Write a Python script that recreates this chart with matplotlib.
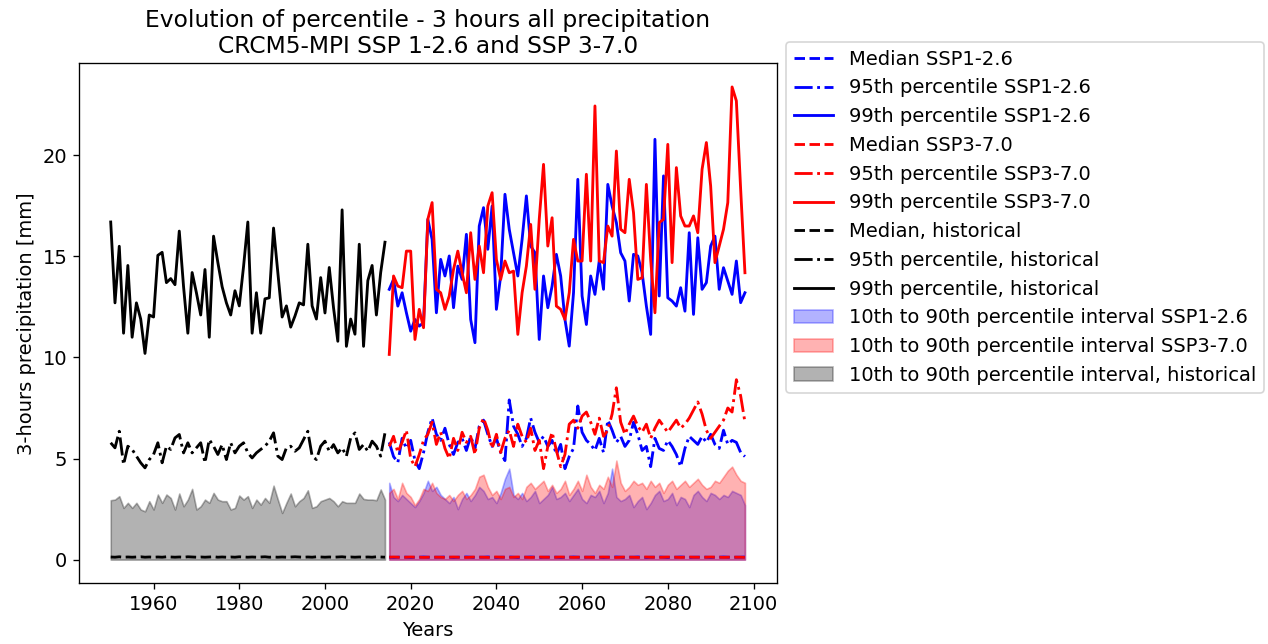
import numpy as np
import matplotlib
matplotlib.use("Agg")
import matplotlib.pyplot as plt

plt.rcParams['font.size'] = 11.7
plt.rcParams['lines.linewidth'] = 1.7

# Years
hist_years = np.arange(1950, 2015)
ssp_years = np.arange(2015, 2099)

# Historical percentiles (mm per 3 hours)
hist_p99 = [16.70, 12.70, 15.50, 11.20, 14.55, 11.00, 12.70, 11.90, 10.20, 12.10,
            12.00, 15.05, 15.20, 13.70, 13.90, 13.60, 16.25, 13.50, 11.20, 14.20,
            13.20, 12.10, 14.35, 11.00, 16.00, 14.70, 13.50, 12.70, 12.10, 13.30,
            12.55, 14.50, 16.70, 11.20, 13.20, 11.20, 12.90, 12.95, 16.40, 14.20,
            12.00, 12.55, 11.50, 12.05, 12.70, 12.60, 15.60, 12.55, 11.90, 13.95,
            12.20, 14.45, 12.45, 10.80, 17.30, 10.55, 11.90, 11.15, 15.60, 10.55,
            13.80, 14.55, 12.10, 14.20, 15.70]
hist_p95 = [5.78, 5.53, 6.35, 4.70, 5.61, 5.45, 5.12, 4.79, 4.54, 4.95,
            5.20, 5.78, 4.79, 5.61, 5.45, 6.02, 6.19, 5.28, 5.78, 5.28,
            5.53, 5.78, 4.79, 5.94, 5.61, 5.20, 5.69, 4.95, 5.78, 5.28,
            5.61, 5.78, 5.28, 5.03, 5.28, 5.45, 5.61, 5.86, 6.27, 5.12,
            4.95, 5.53, 5.61, 5.36, 5.53, 5.94, 6.35, 5.12, 4.95, 5.61,
            5.86, 5.36, 5.69, 5.28, 5.53, 5.12, 6.02, 6.27, 5.45, 5.69,
            5.36, 5.86, 5.61, 5.12, 6.27]
hist_p90 = [2.94, 2.97, 3.14, 2.56, 2.81, 2.56, 2.81, 2.48, 2.39, 2.89,
            2.48, 3.22, 2.81, 3.22, 3.05, 2.48, 3.27, 2.64, 2.97, 3.50,
            2.48, 2.64, 2.97, 2.81, 3.30, 2.97, 2.89, 2.89, 2.48, 2.56,
            3.17, 2.97, 3.14, 2.56, 2.97, 2.72, 3.05, 2.81, 3.66, 2.97,
            2.31, 2.81, 3.27, 2.64, 2.89, 3.05, 3.43, 2.56, 2.64, 2.89,
            2.97, 3.05, 2.89, 2.64, 2.89, 2.81, 2.81, 2.81, 3.27, 3.00,
            2.97, 2.97, 2.94, 3.47, 2.97]
hist_p50 = [0.13, 0.12, 0.14, 0.12, 0.13, 0.12, 0.13, 0.14, 0.12, 0.13,
            0.12, 0.13, 0.12, 0.14, 0.13, 0.12, 0.13, 0.12, 0.14, 0.13,
            0.12, 0.13, 0.12, 0.13, 0.14, 0.12, 0.13, 0.12, 0.13, 0.12,
            0.14, 0.13, 0.12, 0.13, 0.12, 0.13, 0.14, 0.12, 0.13, 0.12,
            0.13, 0.12, 0.13, 0.14, 0.13, 0.12, 0.13, 0.12, 0.14, 0.13,
            0.12, 0.13, 0.12, 0.13, 0.14, 0.12, 0.13, 0.12, 0.13, 0.12,
            0.13, 0.12, 0.14, 0.13, 0.12]
hist_p10 = [0.0] * 65

# SSP1-2.6 percentiles
ssp126_p99 = [13.37, 13.86, 12.54, 13.20, 12.21, 11.30, 11.88, 11.55, 11.72, 16.83,
              15.84, 12.21, 14.85, 14.03, 15.02, 12.46, 14.52, 13.86, 16.09, 11.88,
              10.73, 16.50, 17.41, 15.35, 17.49, 12.38, 14.03, 18.07, 16.34, 15.18,
              14.03, 15.84, 17.99, 15.51, 15.18, 10.89, 14.03, 12.46, 13.53, 15.10,
              14.03, 11.88, 10.56,
              13.20, 18.81, 13.04, 11.63, 14.03, 13.12, 14.77, 13.37, 18.56, 17.49,
              16.67, 15.18, 14.77, 12.79, 15.10, 15.02, 14.19, 12.54, 11.14, 20.79,
              13.04, 18.98, 12.95, 12.79, 12.54, 13.45, 12.29, 16.17, 12.13, 15.92,
              13.37, 13.70, 15.51, 16.00, 13.37, 14.44, 13.78, 13.12, 14.77, 12.71, 13.20]
ssp126_p95 = [5.8, 5.1, 4.8, 6.0, 5.5, 5.9, 4.9, 4.5, 5.3, 6.3,
              7.0, 6.2, 5.9, 6.5, 5.7, 5.2, 5.8, 6.0, 5.4, 6.1,
              5.5, 6.6, 6.9, 6.2, 5.6, 6.0,
              5.3, 4.9, 7.9, 6.6, 6.2, 5.6, 6.0, 7.0, 6.3, 5.8,
              6.1, 5.6, 5.9, 5.2, 5.7, 4.5, 5.1, 5.5, 7.6, 6.3,
              5.9, 5.7, 5.4, 6.0, 5.3, 6.9, 6.4, 5.8, 6.1, 5.6,
              5.9, 6.8, 6.2, 5.4, 5.6, 4.6, 6.0, 5.5, 5.4, 5.9,
              5.6, 5.2, 4.6, 5.5, 6.1, 5.9, 5.7, 6.1, 5.8, 6.2,
              5.7, 5.5, 6.4, 5.7, 5.9, 5.8, 5.3, 5.1]
ssp126_p90 = [3.8, 3.1, 2.9, 3.2, 3.0, 2.8, 2.6, 2.9, 3.3, 3.9,
              3.4, 3.6, 3.2, 3.0, 2.8, 3.1, 2.5, 3.0, 3.3, 2.9,
              3.2, 3.6, 3.4, 3.0, 3.1, 2.8, 3.3, 4.0, 4.5, 3.2,
              3.0, 3.3, 2.9, 3.1, 3.4, 2.8, 3.0, 3.2, 3.6, 3.0,
              3.1, 3.3, 2.9, 3.2, 3.5, 3.0, 2.8, 3.2, 3.1, 3.4,
              2.8, 3.3, 4.5, 3.1, 2.9, 3.0, 3.2, 2.6, 2.9, 3.1,
              2.5, 2.8, 3.2, 3.4, 2.9, 3.0, 3.3, 2.7, 3.1, 3.0,
              2.6, 3.2, 3.4, 3.1, 2.9, 3.3, 3.2, 3.0, 3.2, 3.1,
              3.4, 3.3, 3.2, 2.7]
ssp126_p50 = [0.12, 0.11, 0.12, 0.13, 0.12, 0.11, 0.12, 0.12, 0.13, 0.12,
              0.11, 0.12, 0.12, 0.13, 0.12, 0.11, 0.12, 0.12, 0.13, 0.12,
              0.11, 0.12, 0.12, 0.13, 0.12, 0.11, 0.12, 0.12, 0.13, 0.12,
              0.11, 0.12, 0.12, 0.13, 0.12, 0.11, 0.12, 0.12, 0.13, 0.12,
              0.11, 0.12, 0.12, 0.13, 0.12, 0.11, 0.12, 0.12, 0.13, 0.12,
              0.11, 0.12, 0.12, 0.13, 0.12, 0.11, 0.12, 0.12, 0.13, 0.12,
              0.11, 0.12, 0.12, 0.13, 0.12, 0.11, 0.12, 0.12, 0.13, 0.12,
              0.11, 0.12, 0.12, 0.13, 0.12, 0.11, 0.12, 0.12, 0.13, 0.12,
              0.11, 0.12, 0.12, 0.13]
ssp126_p10 = [0.0] * 84

# SSP3-7.0 percentiles
ssp370_p99 = [10.15, 14.03, 13.53, 13.45, 15.26, 15.26, 10.89, 12.38, 11.47, 16.83,
              17.66, 13.37, 13.20, 12.38, 13.04, 14.36, 15.26, 14.19, 13.20, 16.17,
              13.86, 15.51, 14.19, 17.49, 18.15, 14.85, 13.86, 14.77, 14.19, 14.27,
              11.14, 13.20, 14.52, 16.58, 13.37, 16.83, 19.55, 15.51, 16.91, 12.54,
              12.38, 11.88, 13.20,
              15.84, 14.77, 14.77, 19.06, 14.77, 22.44, 14.77, 14.69, 16.50, 16.00,
              20.21, 16.34, 16.17, 18.81, 17.16, 13.86, 13.94, 18.56, 14.85, 12.21,
              16.67, 16.83, 20.54, 14.69, 19.39, 17.00, 16.50, 16.50, 17.00, 16.17,
              19.31, 20.63, 18.48, 14.69, 15.51, 16.34, 17.66, 23.38, 22.69, 18.32, 14.19]
ssp370_p95 = [5.6, 6.1, 5.3, 5.8, 6.4, 5.0, 4.6, 5.2, 5.9, 6.2,
              6.8, 5.7, 6.3, 5.5, 5.0, 6.0, 5.4, 6.3, 5.8, 6.1,
              5.2, 6.5, 7.0, 6.4, 5.5, 6.2,
              5.3, 6.0, 6.4, 5.6, 6.7, 6.1, 5.8, 6.5, 5.4, 5.9,
              4.5, 5.6, 6.3, 5.4, 4.6, 5.2, 6.7, 6.9, 6.5, 7.1,
              7.3, 6.8, 6.2, 7.0, 6.1, 6.4, 7.2, 8.5, 6.8, 6.2,
              6.7, 7.1, 6.6, 6.3, 6.7, 6.0, 6.5, 6.9, 6.6, 6.3,
              6.6, 6.9, 6.5, 6.7, 7.0, 7.4, 7.8, 7.2, 6.4, 6.0,
              6.3, 6.6, 6.9, 7.5, 7.3, 8.9, 8.1, 6.8]
ssp370_p90 = [3.3, 3.5, 3.0, 3.8, 3.3, 3.1, 2.7, 3.0, 3.5, 3.4,
              3.8, 3.3, 3.1, 3.0, 3.2, 2.9, 3.2, 3.4, 3.0, 3.2,
              3.5, 4.1, 4.2, 3.6, 3.2, 3.4, 3.0, 3.5, 3.6, 3.1,
              3.3, 3.0, 3.6, 3.8, 3.5, 3.7, 3.9, 3.4, 3.7, 3.3,
              3.5, 3.9, 3.2, 3.5, 3.9, 3.4, 4.2, 3.6, 3.3, 3.7,
              3.5, 4.1, 3.6, 4.9, 3.8, 3.4, 3.6, 3.9, 3.7, 3.8,
              3.5, 3.9, 3.6, 3.8, 3.3, 3.7, 3.9, 3.5, 3.7, 3.9,
              3.6, 3.8, 4.0, 3.7, 3.5, 3.6, 3.9, 3.8, 4.1, 4.4,
              4.6, 4.2, 3.9, 3.8]
ssp370_p50 = [0.12, 0.13, 0.12, 0.11, 0.12, 0.13, 0.12, 0.12, 0.11, 0.12,
              0.13, 0.12, 0.12, 0.11, 0.12, 0.13, 0.12, 0.12, 0.11, 0.12,
              0.13, 0.12, 0.12, 0.11, 0.12, 0.13, 0.12, 0.12, 0.11, 0.12,
              0.13, 0.12, 0.12, 0.11, 0.12, 0.13, 0.12, 0.12, 0.11, 0.12,
              0.13, 0.12, 0.12, 0.11, 0.12, 0.13, 0.12, 0.12, 0.11, 0.12,
              0.13, 0.12, 0.12, 0.11, 0.12, 0.13, 0.12, 0.12, 0.11, 0.12,
              0.13, 0.12, 0.12, 0.11, 0.12, 0.13, 0.12, 0.12, 0.11, 0.12,
              0.13, 0.12, 0.12, 0.11, 0.12, 0.13, 0.12, 0.12, 0.11, 0.12,
              0.13, 0.12, 0.12, 0.11]
ssp370_p10 = [0.0] * 84

fig = plt.figure(figsize=(1268 / 120, 644 / 120), dpi=120)
ax = fig.add_axes([0.0623, 0.0943, 0.5502, 0.8074])

# Percentile lines
ax.plot(ssp_years, ssp126_p50, '--', color='blue', label='Median SSP1-2.6')
ax.plot(ssp_years, ssp126_p95, '-.', color='blue', label='95th percentile SSP1-2.6')
ax.plot(ssp_years, ssp126_p99, '-', color='blue', label='99th percentile SSP1-2.6')
ax.plot(ssp_years, ssp370_p50, '--', color='red', label='Median SSP3-7.0')
ax.plot(ssp_years, ssp370_p95, '-.', color='red', label='95th percentile SSP3-7.0')
ax.plot(ssp_years, ssp370_p99, '-', color='red', label='99th percentile SSP3-7.0')
ax.plot(hist_years, hist_p50, '--', color='black', label='Median, historical')
ax.plot(hist_years, hist_p95, '-.', color='black', label='95th percentile, historical')
ax.plot(hist_years, hist_p99, '-', color='black', label='99th percentile, historical')

# 10th-90th percentile bands
ax.fill_between(ssp_years, ssp126_p10, ssp126_p90, color='blue', alpha=0.3,
                label='10th to 90th percentile interval SSP1-2.6')
ax.fill_between(ssp_years, ssp370_p10, ssp370_p90, color='red', alpha=0.3,
                label='10th to 90th percentile interval SSP3-7.0')
ax.fill_between(hist_years, hist_p10, hist_p90, color='black', alpha=0.3,
                label='10th to 90th percentile interval, historical')

ax.set_title('Evolution of percentile - 3 hours all precipitation\n'
             'CRCM5-MPI SSP 1-2.6 and SSP 3-7.0')
ax.set_xlabel('Years')
ax.set_ylabel('3-hours precipitation [mm]')
ax.legend(loc='upper left', bbox_to_anchor=(1.0, 1.06))

fig.savefig('out.png', dpi=120)
